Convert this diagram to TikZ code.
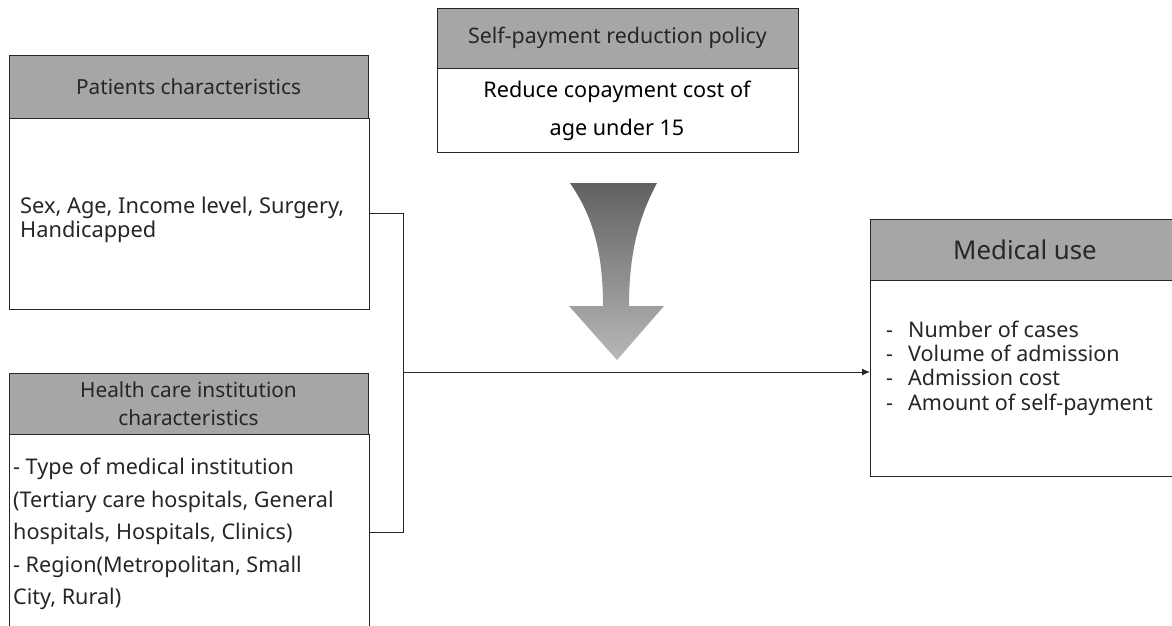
\documentclass[tikz,border=0pt]{standalone}
\usepackage{fontspec}
\setmainfont{Noto Sans}
\usetikzlibrary{arrows.meta}
\definecolor{hdrgray}{HTML}{A6A6A6}
\definecolor{txtgray}{HTML}{262626}
\tikzset{
  hdr/.style={draw=black!85, fill=hdrgray, line width=1pt, anchor=north west, inner sep=0pt, outer sep=0pt, text=txtgray, align=center},
  bodybox/.style={draw=black!85, fill=white, line width=1pt, anchor=north west, inner sep=0pt, outer sep=0pt},
  txt/.style={inner sep=0pt, text=txtgray},
  conn/.style={draw=black!85, line width=1pt},
}
\begin{document}
\begin{tikzpicture}[x=1pt,y=-1pt]
\useasboundingbox (0,0) rectangle (1172,625);
% Patients
\node[hdr, minimum width=359, minimum height=63, font=\fontsize{20.8}{24}\selectfont] (ph) at (9,55) {Patients characteristics};
\node[bodybox, minimum width=360, minimum height=191] (pb) at (9,118) {};
\node[txt, anchor=west, align=left, font=\fontsize{21.8}{23.5}\selectfont] (pt) at (20,220) {Sex, Age, Income level, Surgery,\\Handicapped};
% Health
\node[hdr, minimum width=359, minimum height=61, font=\fontsize{20.8}{28}\selectfont] (hh) at (9,373) {Health care institution\\characteristics};
\node[bodybox, minimum width=360, minimum height=196] (hb) at (9,434) {};
\node[txt, anchor=west, align=left, font=\fontsize{21.6}{32.5}\selectfont] (ht) at (13,534) {- Type of medical institution\\(Tertiary care hospitals, General\\hospitals, Hospitals, Clinics)\\- Region(Metropolitan, Small\\City, Rural)};
% Policy
\node[hdr, minimum width=361, minimum height=60, font=\fontsize{21.4}{24}\selectfont] (ah) at (437,8) {Self-payment reduction policy};
\node[bodybox, minimum width=361, minimum height=84] (ab) at (437,68) {};
\node[txt, align=center, text=black, font=\fontsize{21.6}{38}\selectfont] (at) at (617,111) {Reduce copayment cost of\\age under 15};
% Medical use
\node[hdr, minimum width=310, minimum height=61, font=\fontsize{25.8}{30}\selectfont] (mh) at (870,219) {Medical use};
\node[bodybox, minimum width=310, minimum height=196] (mb) at (870,280) {};
\node[txt, anchor=west, align=left, font=\fontsize{21.5}{24.3}\selectfont] (mt) at (886,368) {\makebox[22pt][l]{-}Number of cases\\\makebox[22pt][l]{-}Volume of admission\\\makebox[22pt][l]{-}Admission cost\\\makebox[22pt][l]{-}Amount of self-payment};
% funnel arrow
\shade[top color=black!62, bottom color=black!28, shading=axis]
  (570,183) .. controls (592,215) and (603,250) .. (603,306) -- (569,306) -- (617,360) -- (664,306) -- (629,306) .. controls (629,250) and (640,215) .. (657,183) -- cycle;
% connectors
\coordinate (j) at (403,372);
\draw[conn] (pb.east) -- (pb.east -| j) -- (hb.east -| j) -- (hb.east);
\draw[conn, -{Latex[length=8pt,width=7pt]}] (j) -- (mb.west |- j);
\end{tikzpicture}
\end{document}
